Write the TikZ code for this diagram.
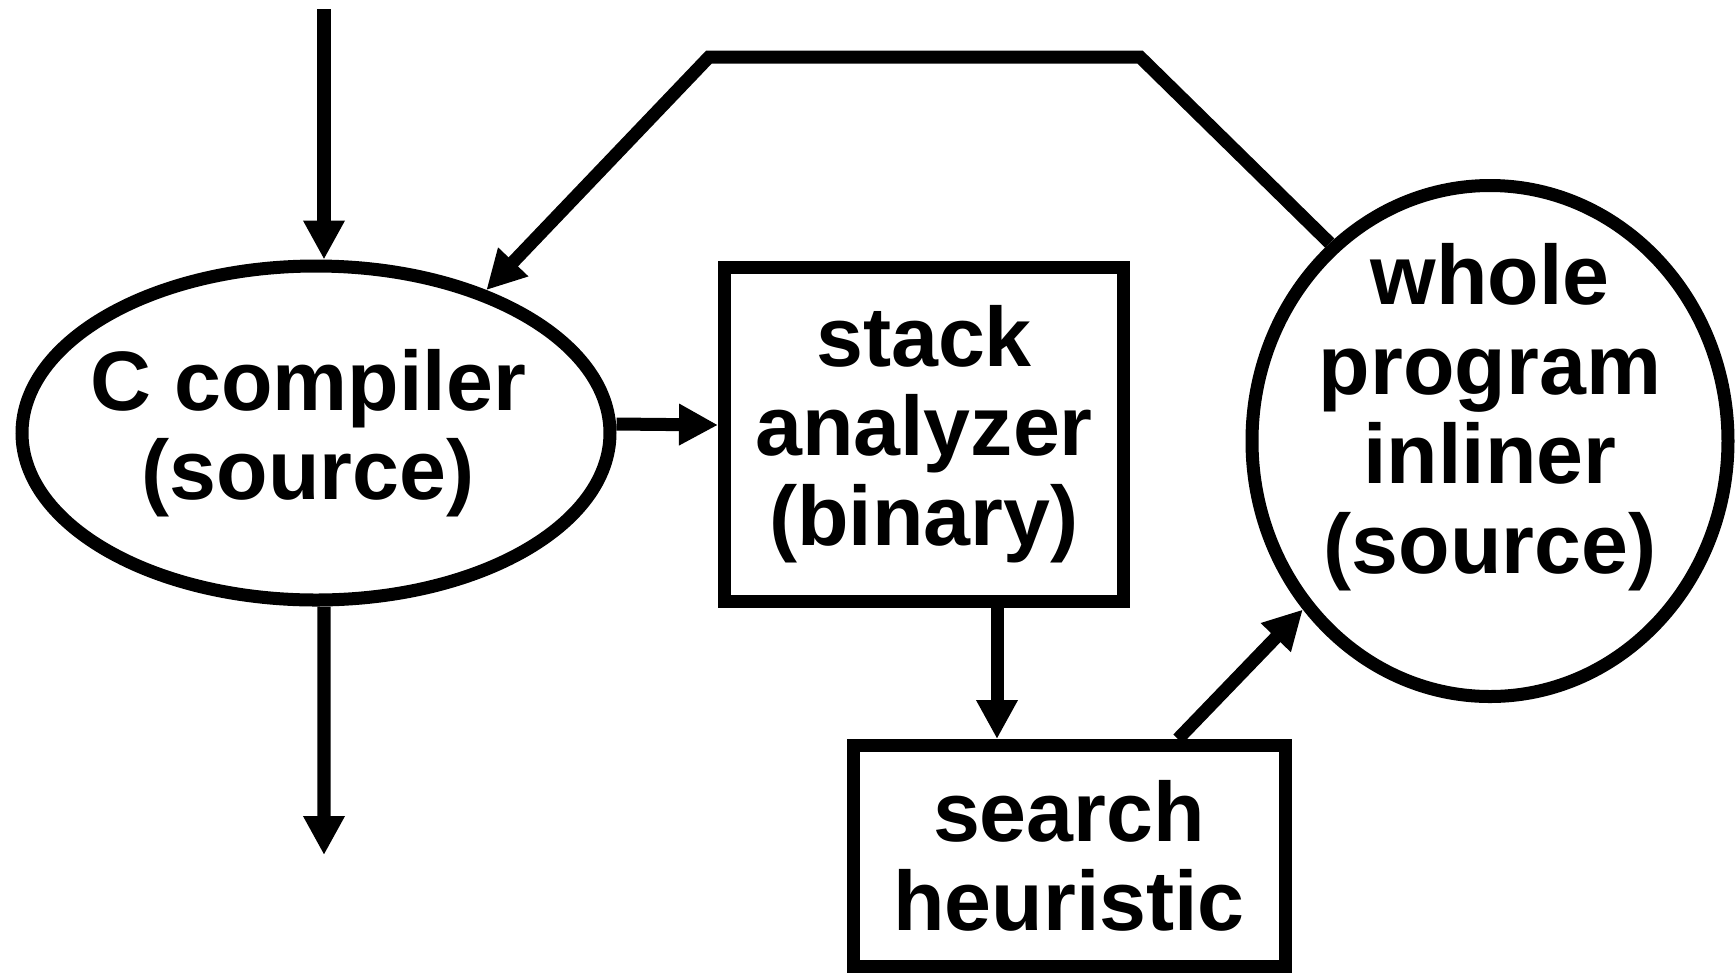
\documentclass[tikz,border=0pt]{standalone}
\usepackage{fontspec}
\setmainfont{Liberation Sans}
\usetikzlibrary{arrows.meta,shapes.geometric}

\tikzset{
  blk/.style={draw, line width=3.7pt, inner sep=0pt, align=center},
  txt/.style={align=center},
  wire/.style={line width=3.7pt},
}

\begin{document}
\begin{tikzpicture}[x=0.1mm, y=-0.1mm, font=\fontsize{24}{25.5}\selectfont\bfseries,
  >={Triangle[length=3.9mm, width=3.9mm]}]
  \useasboundingbox (0,0) rectangle (1735,974);

  \node[blk, ellipse, minimum width=58.8mm, minimum height=33.4mm,
        label={[txt, xshift=-0.8mm]center:C compiler\\(source)}] (comp) at (316,433) {};
  \node[blk, minimum width=39.9mm, minimum height=33.4mm] (stack) at (924,434)
        {stack\\analyzer\\(binary)};
  \node[blk, ellipse, minimum width=47.6mm, minimum height=51.1mm,
        label={[txt, yshift=2.4mm]center:whole\\program\\inliner\\(source)}] (inl) at (1490,441) {};
  \node[blk, minimum width=43.2mm, minimum height=22.1mm] (heur) at (1069,856)
        {search\\heuristic};

  % free ends of the in/out arrows and the feedback corners
  \coordinate (src) at (324,9);
  \coordinate (out) at (324,855);
  \coordinate (fbr) at (1140,57);
  \coordinate (fbl) at (709,57);

\path[wire,->]
  (src) edge (src |- comp.north)
  ([xshift=0.8mm]comp.south) edge (out)
  ([yshift=0.9mm]comp.east) edge ([yshift=0.9mm]stack.west)
  ([xshift=7.3mm]stack.south) edge ([xshift=7.3mm]stack.south |- heur.north)
  ([xshift=10.9mm]heur.north) edge (inl.222);
  \draw[wire,->] (inl.129) -- (fbr) -- (fbl) -- (comp.40);
\end{tikzpicture}
\end{document}
